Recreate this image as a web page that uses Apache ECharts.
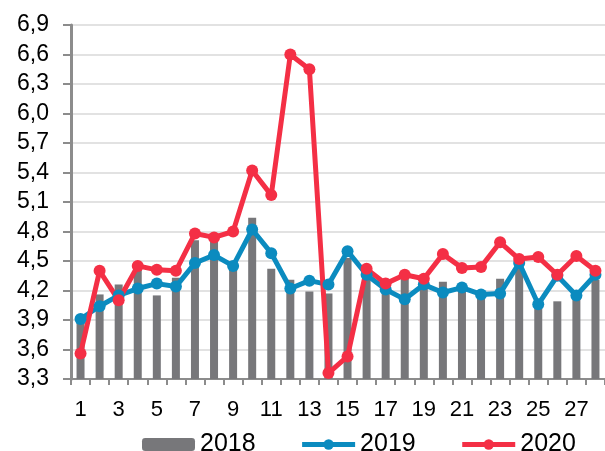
<!DOCTYPE html>
<html>
<head>
<meta charset="utf-8">
<script src="https://cdn.jsdelivr.net/npm/echarts@6/dist/echarts.min.js"></script>
<style>html,body{margin:0;padding:0;background:#fff}#c{width:605px;height:451px}</style>
</head>
<body>
<div id="c"></div>
<script>
const categories = ['1','2','3','4','5','6','7','8','9','10','11','12','13','14','15','16','17','18','19','20','21','22','23','24','25','26','27','28'];
const values2018 = [3.88,4.16,4.26,4.42,4.15,4.33,4.71,4.70,4.43,4.94,4.42,4.31,4.19,4.17,4.53,4.42,4.22,4.32,4.27,4.29,4.26,4.17,4.32,4.44,4.07,4.09,4.17,4.31];
const values2019 = [3.91,4.04,4.15,4.22,4.27,4.24,4.48,4.56,4.45,4.82,4.58,4.22,4.30,4.26,4.60,4.36,4.21,4.11,4.26,4.18,4.23,4.16,4.17,4.48,4.06,4.35,4.15,4.36];
const values2020 = [3.56,4.40,4.10,4.45,4.41,4.40,4.78,4.74,4.80,5.42,5.17,6.60,6.45,3.36,3.53,4.42,4.27,4.36,4.32,4.57,4.43,4.44,4.69,4.52,4.54,4.36,4.55,4.40];
const seriesNames = ['2018','2019','2020'];

const chart = echarts.init(document.getElementById('c'), null, {renderer:'canvas'});
const font = 'Liberation Sans, Arial, sans-serif';
chart.setOption({
  animation: false,
  grid: {left: 71, top: 25, width: 539, height: 354, containLabel: false},
  legend: {
    data: seriesNames,
    top: 427, left: 137,
    itemGap: 44,
    itemWidth: 53, itemHeight: 13,
    lineStyle: {width: 5},
    textStyle: {fontFamily: font, fontSize: 25, color: '#000'}
  },
  xAxis: {
    type: 'category',
    data: categories,
    boundaryGap: true,
    axisLine: {lineStyle: {color: '#8c8c8c', width: 2}},
    axisTick: {show: true, interval: 0, length: 6, lineStyle: {color: '#8c8c8c', width: 2}},
    axisLabel: {interval: 1, fontFamily: font, fontSize: 22, color: '#000', margin: 20}
  },
  yAxis: {
    type: 'value',
    min: 3.3, max: 6.9, interval: 0.3,
    axisLine: {show: true, lineStyle: {color: '#8c8c8c', width: 3}},
    axisTick: {show: true, length: 8, lineStyle: {color: '#8c8c8c', width: 2}},
    splitLine: {lineStyle: {color: '#d9d9d9', width: 1.5}},
    axisLabel: {fontFamily: font, fontSize: 23, color: '#000', margin: 22,
      formatter: v => v.toFixed(1).replace('.', ',')}
  },
  series: [
    {name: '2018', type: 'bar', data: values2018, barWidth: 8, itemStyle: {color: '#77777a'}},
    {name: '2019', type: 'line', data: values2019, symbol: 'circle', symbolSize: 12,
      lineStyle: {color: '#0b8bbf', width: 5}, itemStyle: {color: '#0b8bbf'}},
    {name: '2020', type: 'line', data: values2020, symbol: 'circle', symbolSize: 12,
      lineStyle: {color: '#f42f45', width: 5}, itemStyle: {color: '#f42f45'}}
  ]
});
</script>
</body>
</html>
